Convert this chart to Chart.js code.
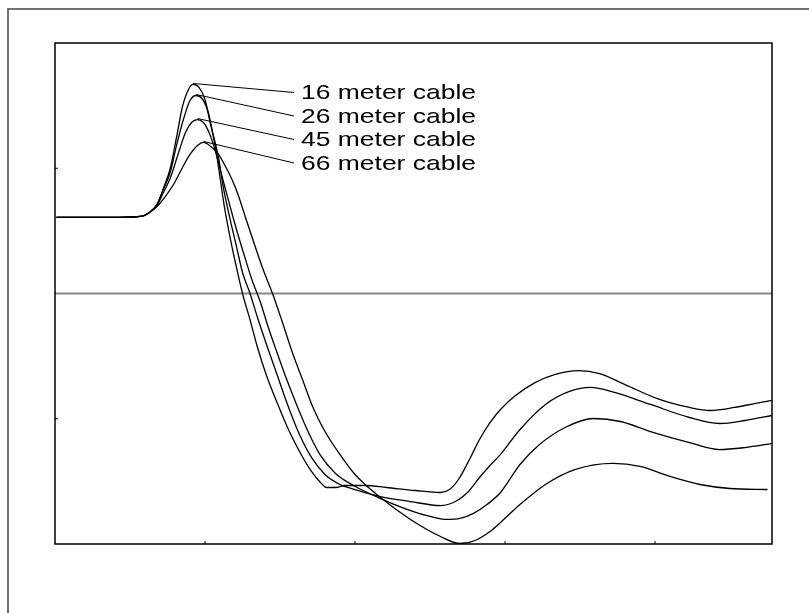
<!DOCTYPE html>
<html>
<head>
<meta charset="utf-8">
<script src="https://cdn.jsdelivr.net/npm/chart.js@4"></script>
<style>
body { margin: 0; background: #fff; }
#wrap { width: 809px; height: 613px; position: relative; }
</style>
</head>
<body>
<div id="wrap"><canvas id="miGrafico"></canvas></div>
<script>
// time (ns) and voltage (V), one pair of arrays per cable
const t16 = [1, 37, 57, 63, 68, 72, 77, 81, 85, 89, 92, 96, 100, 103, 107, 110, 113, 117, 121, 125, 130, 135, 141, 148, 155, 163, 171, 177, 181, 187, 193, 207, 221, 240, 257, 263, 269, 277, 283, 290, 297, 307, 320, 333, 349, 363, 380, 403, 423, 437, 453, 467, 478];
const v16 = [0.607, 0.607, 0.615, 0.647, 0.711, 0.830, 1.006, 1.246, 1.493, 1.629, 1.669, 1.645, 1.549, 1.389, 1.166, 0.926, 0.687, 0.431, 0.208, 0, -0.208, -0.431, -0.655, -0.870, -1.070, -1.261, -1.421, -1.509, -1.549, -1.549, -1.533, -1.533, -1.549, -1.573, -1.589, -1.565, -1.485, -1.309, -1.166, -1.030, -0.926, -0.814, -0.711, -0.647, -0.615, -0.639, -0.727, -0.846, -0.910, -0.934, -0.910, -0.878, -0.854];

const t26 = [1, 37, 57, 63, 68, 72, 77, 81, 86, 90, 94, 98, 102, 105, 109, 112, 116, 121, 125, 130, 135, 141, 148, 155, 163, 171, 180, 190, 200, 217, 237, 257, 267, 275, 283, 290, 297, 310, 327, 343, 357, 373, 397, 423, 443, 460, 478];
const v26 = [0.607, 0.607, 0.615, 0.647, 0.711, 0.822, 0.974, 1.182, 1.405, 1.541, 1.581, 1.557, 1.453, 1.293, 1.086, 0.862, 0.631, 0.375, 0.168, 0, -0.192, -0.407, -0.647, -0.886, -1.126, -1.309, -1.445, -1.525, -1.565, -1.621, -1.661, -1.693, -1.661, -1.589, -1.469, -1.373, -1.285, -1.086, -0.886, -0.782, -0.750, -0.790, -0.886, -0.990, -1.038, -1.014, -0.974];

const t45 = [1, 37, 57, 63, 68, 72, 77, 82, 87, 91, 95, 99, 103, 107, 111, 116, 121, 126, 131, 137, 142, 148, 154, 161, 169, 177, 187, 199, 217, 237, 250, 261, 270, 279, 288, 297, 310, 323, 340, 359, 377, 397, 423, 443, 460, 478];
const v45 = [0.607, 0.607, 0.615, 0.647, 0.703, 0.798, 0.926, 1.110, 1.285, 1.365, 1.389, 1.365, 1.277, 1.134, 0.950, 0.727, 0.511, 0.311, 0.120, -0.072, -0.263, -0.471, -0.671, -0.886, -1.110, -1.293, -1.437, -1.533, -1.637, -1.733, -1.780, -1.804, -1.796, -1.756, -1.685, -1.589, -1.365, -1.206, -1.070, -0.998, -1.022, -1.102, -1.190, -1.246, -1.230, -1.198];

const t66 = [1, 37, 57, 63, 68, 73, 79, 85, 90, 95, 99, 103, 109, 114, 118, 122, 127, 133, 139, 145, 151, 158, 165, 172, 180, 189, 200, 217, 237, 257, 270, 280, 290, 297, 310, 327, 347, 372, 390, 410, 430, 450, 475];
const v66 = [0.607, 0.607, 0.615, 0.647, 0.695, 0.766, 0.870, 1.006, 1.110, 1.182, 1.206, 1.182, 1.110, 1.006, 0.910, 0.790, 0.607, 0.391, 0.184, 0, -0.208, -0.463, -0.687, -0.910, -1.102, -1.269, -1.445, -1.629, -1.804, -1.940, -1.996, -1.972, -1.900, -1.828, -1.685, -1.525, -1.405, -1.357, -1.381, -1.461, -1.525, -1.557, -1.565];

const cableNames = ['16 meter cable', '26 meter cable', '45 meter cable', '66 meter cable'];
const xTicks = [100, 200, 300, 400];
const yTicks = [-1, 1];

function pts(t, v) {
  return t.map(function (x, i) { return { x: x, y: v[i] }; });
}

// frame, zero line, tick marks and the cable labels
const decor = {
  id: 'decor',
  beforeDatasetsDraw(chart) {
    const c = chart.ctx, a = chart.chartArea, y = chart.scales.y;
    c.save();
    c.strokeStyle = '#444';
    c.lineWidth = 1.5;
    c.beginPath();
    c.moveTo(8, 613); c.lineTo(8, 9); c.lineTo(809, 9);
    c.stroke();

    const y0 = y.getPixelForValue(0);
    c.strokeStyle = '#888';
    c.lineWidth = 2;
    c.beginPath();
    c.moveTo(a.left, y0); c.lineTo(a.right, y0);
    c.stroke();
    c.restore();
  },
  afterDatasetsDraw(chart) {
    const c = chart.ctx, a = chart.chartArea, x = chart.scales.x, y = chart.scales.y;
    c.save();
    c.strokeStyle = '#000';
    c.lineWidth = 1.5;
    c.strokeRect(a.left, a.top, a.right - a.left, a.bottom - a.top);

    c.lineWidth = 1;
    c.beginPath();
    yTicks.forEach(function (v) {
      const py = y.getPixelForValue(v);
      c.moveTo(a.left, py); c.lineTo(a.left + 3, py);
    });
    xTicks.forEach(function (v) {
      const px = x.getPixelForValue(v);
      c.moveTo(px, a.bottom); c.lineTo(px, a.bottom - 3);
    });
    c.stroke();

    // leader lines from each peak to its label
    c.font = '21px "Liberation Sans", Arial, sans-serif';
    c.textBaseline = 'middle';
    c.fillStyle = '#000';
    chart.data.datasets.forEach(function (ds, i) {
      let top = ds.data[0];
      ds.data.forEach(function (p) { if (p.y > top.y) top = p; });
      const sx = x.getPixelForValue(top.x);
      const sy = y.getPixelForValue(top.y);
      const ly = a.top + 49.5 + i * 23.5;
      c.beginPath();
      c.moveTo(sx, sy - 1);
      c.lineTo(a.left + 239, ly);
      c.stroke();
      c.save();
      c.translate(a.left + 246, ly + 1);
      c.scale(1.26, 1);
      c.fillText(cableNames[i], 0, 0);
      c.restore();
    });
    c.restore();
  }
};

const series = [[t16, v16], [t26, v26], [t45, v45], [t66, v66]];

new Chart(document.getElementById('miGrafico'), {
  type: 'line',
  data: {
    datasets: series.map(function (s, i) {
      return {
        label: cableNames[i],
        data: pts(s[0], s[1]),
        borderColor: '#000',
        borderWidth: 1.3,
        pointRadius: 0,
        cubicInterpolationMode: 'monotone',
        fill: false
      };
    })
  },
  options: {
    responsive: true,
    maintainAspectRatio: false,
    animation: false,
    layout: { padding: { left: 55, top: 43, right: 37, bottom: 69 } },
    plugins: { legend: { display: false }, tooltip: { enabled: false } },
    scales: {
      x: { type: 'linear', min: 0, max: 478, display: false },
      y: { type: 'linear', min: -2, max: 2, display: false }
    }
  },
  plugins: [decor]
});
</script>
</body>
</html>
